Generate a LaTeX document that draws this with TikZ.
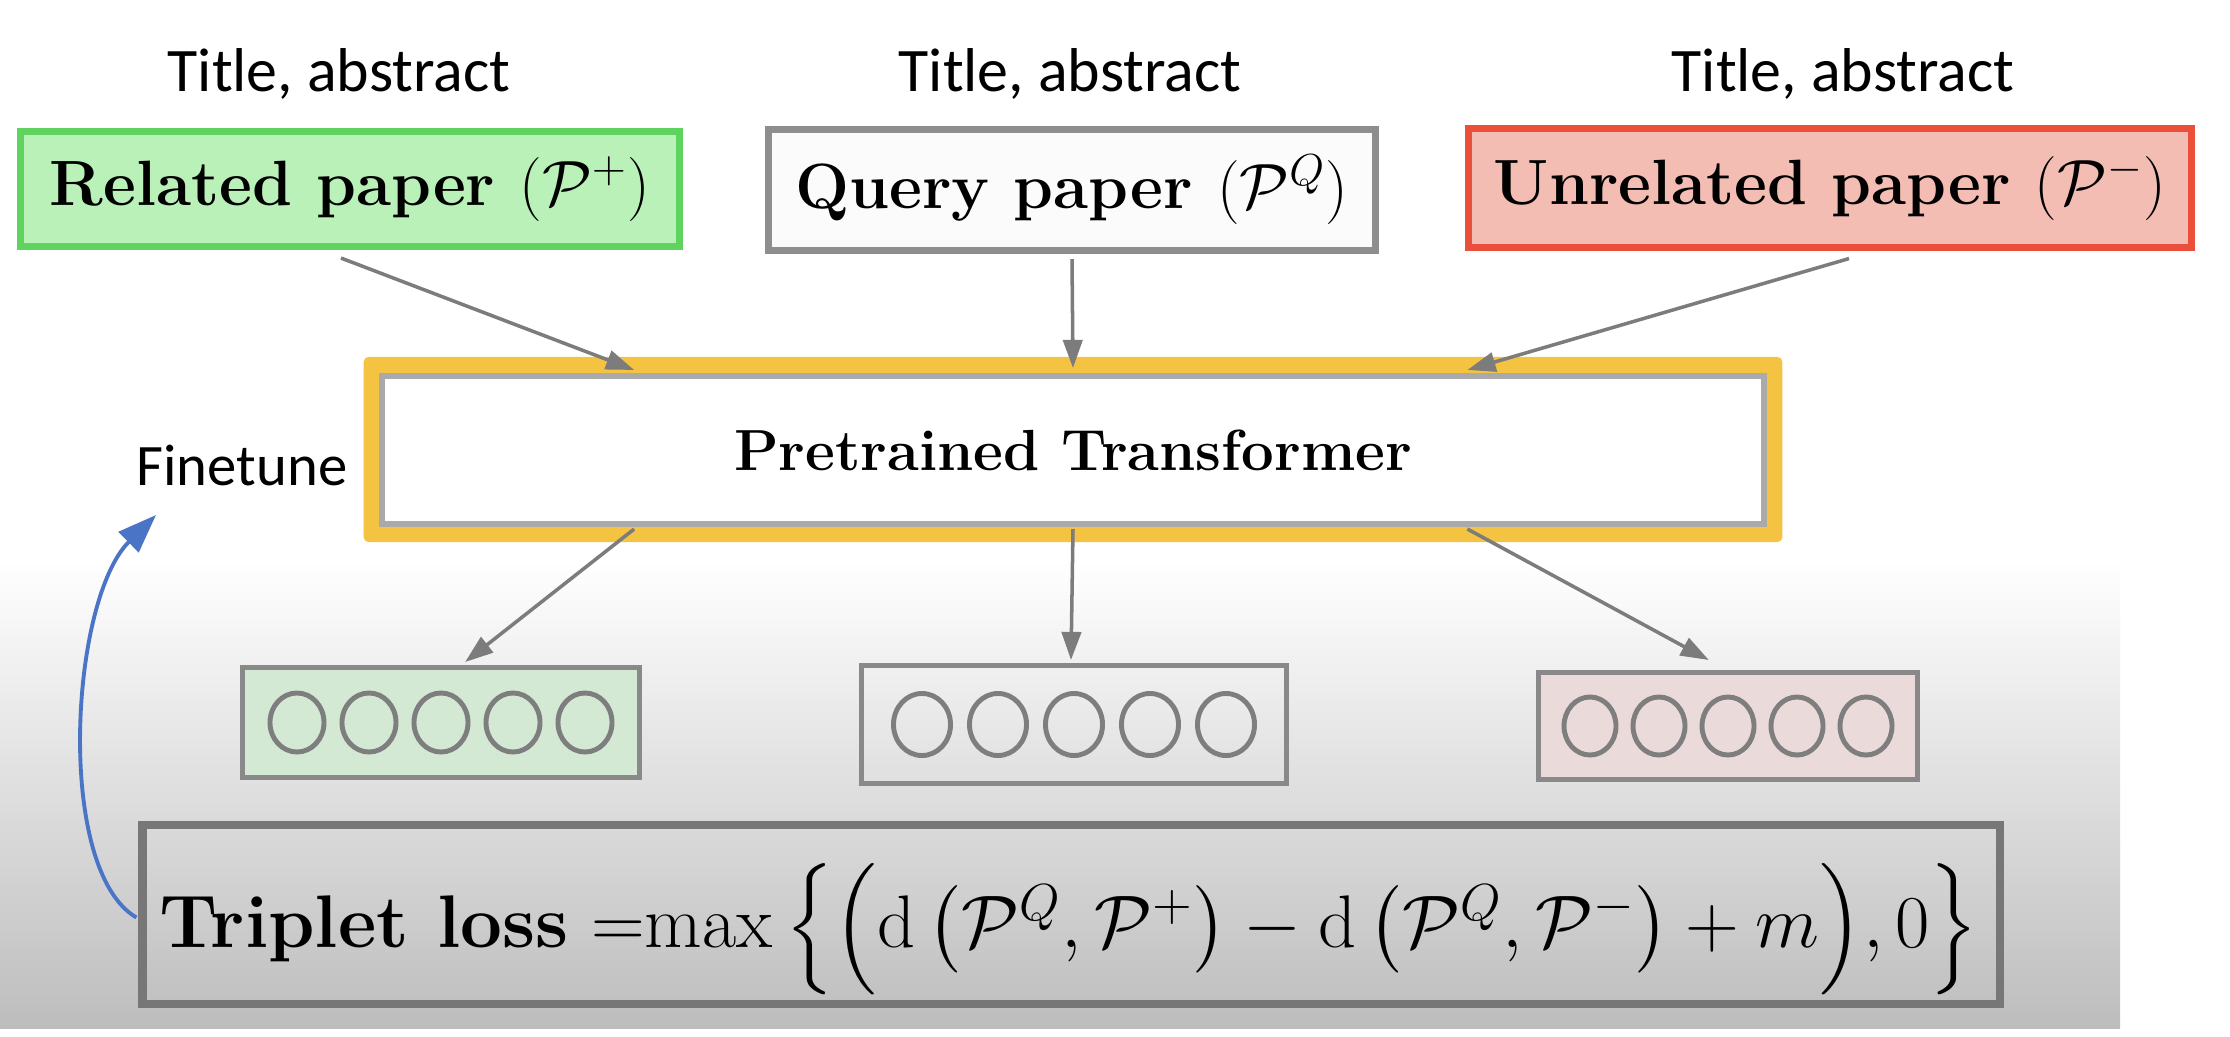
\RequirePackage{fix-cm}
\documentclass[tikz,border=0pt]{standalone}
\usepackage{amsmath}
\usepackage{fontspec}
\newfontfamily\calib{Carlito}
\usetikzlibrary{arrows.meta,calc}
\definecolor{grnB}{HTML}{5ED35E}
\definecolor{grnF}{HTML}{B9F1B9}
\definecolor{redB}{HTML}{EA5039}
\definecolor{redF}{HTML}{F4BDB4}
\definecolor{qB}{HTML}{8E8E8E}
\definecolor{qF}{HTML}{FBFBFB}
\definecolor{yel}{HTML}{F5C342}
\definecolor{trB}{HTML}{AAAAAA}
\definecolor{argray}{HTML}{7C7C7C}
\definecolor{vB}{HTML}{898989}
\definecolor{vG}{HTML}{D4E9D4}
\definecolor{vR}{HTML}{EBDADA}
\definecolor{circc}{HTML}{7E7E7E}
\definecolor{lossB}{HTML}{777777}
\definecolor{blu}{HTML}{4A75C6}
\definecolor{bgbot}{HTML}{BDBDBD}
\begin{document}
\begin{tikzpicture}[x=0.01cm,y=-0.01cm,
  paper/.style={inner sep=0pt, line width=2pt, font=\fontsize{18.2}{21}\selectfont\bfseries},
  titletxt/.style={inner sep=0pt, font=\calib\fontsize{17.6}{20}\selectfont},
  garrow/.style={draw=argray, line width=1pt, -{Triangle[length=8pt,width=5.5pt]}},
  vecbox/.style={draw=vB, line width=1.4pt, inner sep=0pt},
  circs/.style={draw=circc, line width=1.4pt},
  barrow/.style={draw=blu, line width=1.1pt, -{Triangle[length=11pt,width=8pt]}}
]
\useasboundingbox (0,0) rectangle (2230,1036);
\fill[white] (0,0) rectangle (2230,1036);
\shade[top color=white, bottom color=bgbot] (0,560) rectangle (2120,1028);

% titles
\node[titletxt] (t1) at (339,74) {Title, abstract};
\node[titletxt] (t2) at (1070,74) {Title, abstract};
\node[titletxt] (t3) at (1843,74) {Title, abstract};

% papers
\node[paper, draw=grnB, fill=grnF, minimum width=6.58cm, minimum height=1.15cm] (rel) at (350,189) {Related paper $(\mathcal{P}^+)$};
\node[paper, draw=qB, fill=qF, minimum width=6.07cm, minimum height=1.21cm] (qry) at (1072,190) {Query paper $(\mathcal{P}^Q)$};
\node[paper, draw=redB, fill=redF, minimum width=7.23cm, minimum height=1.18cm] (unr) at (1830,188) {Unrelated paper $(\mathcal{P}^-)$};

% transformer
\node[fill=yel, rounded corners=0.05cm, minimum width=14.18cm, minimum height=1.85cm, inner sep=0pt] (trout) at (1073,449.5) {};
\node[draw=trB, fill=white, line width=1.7pt, minimum width=13.82cm, minimum height=1.48cm, inner sep=0pt,
      font=\fontsize{16.5}{19}\selectfont\bfseries] (tr) at (1073,450) {Pretrained Transformer};

\node[titletxt, font=\calib\fontsize{16.7}{19}\selectfont] (fine) at (242,466) {Finetune};

% vectors
\node[vecbox, fill=vG, minimum width=3.97cm, minimum height=1.10cm] (v1) at (441,722.5) {};
\node[vecbox, minimum width=4.25cm, minimum height=1.18cm] (v2) at (1074,724.5) {};
\node[vecbox, fill=vR, minimum width=3.79cm, minimum height=1.07cm] (v3) at (1728,726) {};
\foreach \i in {-2,...,2} {
  \draw[circs] ($(v1)+(\i*72,0)$) ellipse[x radius=0.27cm, y radius=0.295cm];
  \draw[circs] ($(v2)+(\i*76,0)$) ellipse[x radius=0.285cm, y radius=0.31cm];
  \draw[circs] ($(v3)+(\i*69,0)$) ellipse[x radius=0.26cm, y radius=0.29cm];
}

% loss
\node[draw=lossB, line width=2.3pt, minimum width=18.56cm, minimum height=1.79cm, inner sep=0pt] (loss) at (1071,914.5) {};
\node[inner sep=0pt, font=\fontsize{21.2}{25}\selectfont] (losstxt) at (1069,929)
 {\textbf{Triplet loss} ${=}\!\max\Big\{\Big(\mathrm{d}\,\big(\mathcal{P}^Q,\mathcal{P}^+\big)-\mathrm{d}\,\big(\mathcal{P}^Q,\mathcal{P}^-\big)+m\Big),0\Big\}$};

% arrows top
\draw[garrow] ($(rel.south)+(-9,8)$) -- ($(tr.north west)!0.184!(tr.north east)+(0,-3)$);
\draw[garrow] ($(qry.south)+(0,5)$) -- ($(tr.north)+(0,-5)$);
\draw[garrow] ($(unr.south)+(19,8)$) -- ($(tr.north west)!0.784!(tr.north east)+(0,-3)$);
% arrows bottom
\draw[garrow] ($(tr.south west)!0.184!(tr.south east)+(0,2)$) -- ($(v1.north west)!0.56!(v1.north east)+(0,-3)$);
\draw[garrow] ($(tr.south)+(0,2)$) -- ($(v2.north)+(-3,-3)$);
\draw[garrow] ($(tr.south west)!0.784!(tr.south east)+(0,2)$) -- ($(v3.north west)!0.45!(v3.north east)+(0,-10)$);

% finetune arrow
\coordinate (ftip) at (156,515);
\draw[barrow] ($(loss.west)+(-2,3)$) .. controls (55,870) and (70,600) .. (ftip);
\end{tikzpicture}
\end{document}
